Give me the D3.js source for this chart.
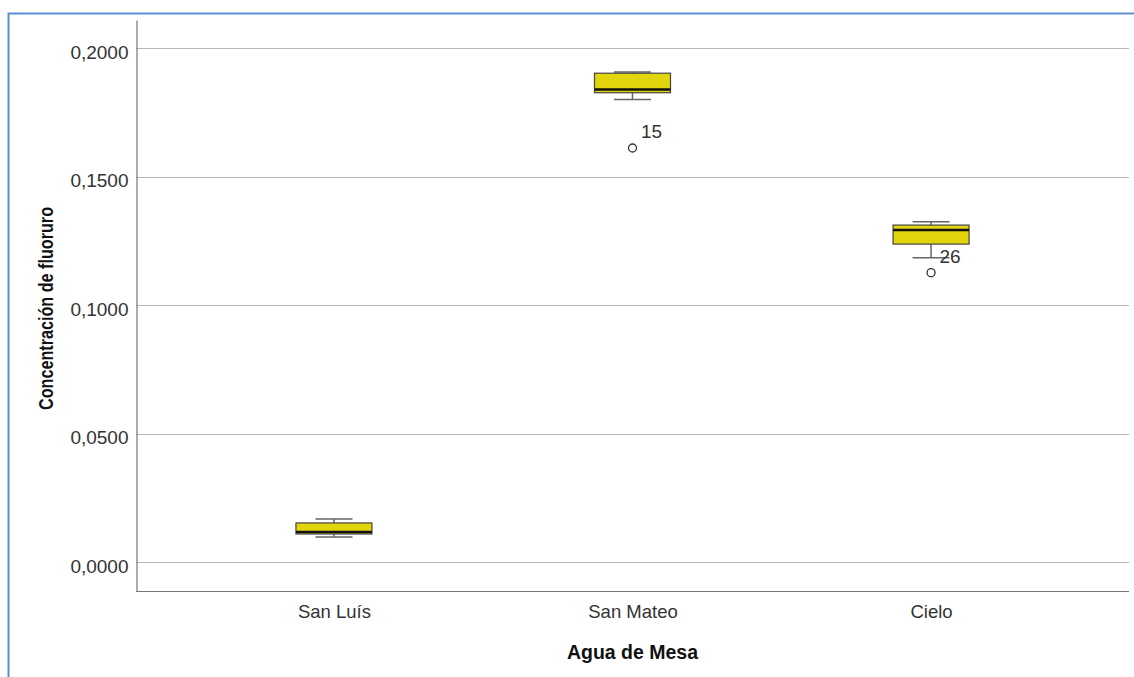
<!DOCTYPE html>
<html><head><meta charset="utf-8">
<script src="https://cdn.jsdelivr.net/npm/d3@7"></script>
<style>
html,body{margin:0;padding:0;background:#fff;}
svg{display:block;font-family:"Liberation Sans",Arial,sans-serif;}
</style></head>
<body>
<svg id="chart" width="1134" height="677"></svg>
<script>
const categories = ["San Luís", "San Mateo", "Cielo"];
const whiskerLow  = [0.0097, 0.1800, 0.1184];
const q1          = [0.0109, 0.1826, 0.1237];
const median      = [0.0117, 0.1839, 0.1292];
const q3          = [0.0152, 0.1902, 0.1311];
const whiskerHigh = [0.0167, 0.1907, 0.1324];
const outlierCat   = ["San Mateo", "Cielo"];
const outlierVal   = [0.1611, 0.1126];
const outlierLabel = ["15", "26"];
const yTicks = [0, 0.05, 0.1, 0.15, 0.2];
const yTitle = "Concentración de fluoruro";
const xTitle = "Agua de Mesa";

const svg = d3.select("#chart");
const L = 136, R = 1129, T = 20, B = 591;

// frame
svg.append("path").attr("d", `M8.5,677 L8.5,13.5 L1134,13.5`)
  .attr("fill","none").attr("stroke","#5b8fd0").attr("stroke-width",2);

const y = d3.scaleLinear().domain([-0.01128, 0.2109]).range([B, T]);
const x = d3.scalePoint().domain(categories).range([L, R]).padding(0.663);

// gridlines
svg.append("g").selectAll("line").data(yTicks).join("line")
  .attr("x1", L).attr("x2", R)
  .attr("y1", d => Math.round(y(d)) + 0.5).attr("y2", d => Math.round(y(d)) + 0.5)
  .attr("stroke", "#b8b8b8").attr("stroke-width", 1.2);

// y axis
const yAxis = d3.axisLeft(y).tickValues(yTicks).tickSize(0).tickPadding(8)
  .tickFormat(d => d3.format(".4f")(d).replace(".", ","));
const gy = svg.append("g").attr("transform", `translate(${L + 0.5},0)`).call(yAxis);
gy.select(".domain").attr("stroke", "#777").attr("stroke-width", 1.2);
gy.selectAll("text").attr("font-size", 19).attr("fill", "#333").attr("dy", "0.53em")
  .attr("font-family", "Liberation Sans, Arial, sans-serif");

// x axis
const xAxis = d3.axisBottom(x).tickSize(0).tickPadding(13.5);
const gx = svg.append("g").attr("transform", `translate(0,${B + 0.5})`).call(xAxis);
gx.select(".domain").attr("stroke", "#777").attr("stroke-width", 1.2).attr("d", `M${L},0H${R}`);
gx.selectAll("text").attr("font-size", 18.5).attr("fill", "#333")
  .attr("font-family", "Liberation Sans, Arial, sans-serif");

// titles
svg.append("text").attr("x", x("San Mateo")).attr("y", 659).attr("text-anchor", "middle")
  .attr("font-weight", "bold").attr("font-size", 19.5).attr("fill", "#111").text(xTitle);
svg.append("text").attr("transform", `translate(53,308.5) rotate(-90) scale(0.83,1)`)
  .attr("text-anchor", "middle").attr("font-weight", "bold").attr("font-size", 19.5)
  .attr("fill", "#111").text(yTitle);

// boxes
const boxW = 76, capW = 37;
const data = categories.map((c, i) => ({c, lo: whiskerLow[i], q1: q1[i], med: median[i], q3: q3[i], hi: whiskerHigh[i]}));
const g = svg.append("g");
data.forEach(d => {
  const cx = x(d.c);
  g.append("line").attr("x1", cx).attr("x2", cx).attr("y1", y(d.hi)).attr("y2", y(d.q3))
    .attr("stroke", "#666").attr("stroke-width", 1.5);
  g.append("line").attr("x1", cx).attr("x2", cx).attr("y1", y(d.q1)).attr("y2", y(d.lo))
    .attr("stroke", "#666").attr("stroke-width", 1.5);
  g.append("line").attr("x1", cx - capW / 2).attr("x2", cx + capW / 2).attr("y1", y(d.hi)).attr("y2", y(d.hi))
    .attr("stroke", "#666").attr("stroke-width", 1.5);
  g.append("line").attr("x1", cx - capW / 2).attr("x2", cx + capW / 2).attr("y1", y(d.lo)).attr("y2", y(d.lo))
    .attr("stroke", "#666").attr("stroke-width", 1.5);
  g.append("rect").attr("x", cx - boxW / 2).attr("width", boxW)
    .attr("y", y(d.q3)).attr("height", y(d.q1) - y(d.q3))
    .attr("fill", "#e3d50c").attr("stroke", "#444").attr("stroke-width", 1.2);
  g.append("line").attr("x1", cx - boxW / 2).attr("x2", cx + boxW / 2).attr("y1", y(d.med)).attr("y2", y(d.med))
    .attr("stroke", "#111").attr("stroke-width", 2.5);
});

// outliers
outlierCat.forEach((c, i) => {
  const cx = x(c), cy = y(outlierVal[i]);
  g.append("circle").attr("cx", cx).attr("cy", cy).attr("r", 4)
    .attr("fill", "#fff").attr("stroke", "#333").attr("stroke-width", 1.3);
  g.append("text").attr("x", cx + 8.5).attr("y", cy - 10).attr("font-size", 19)
    .attr("fill", "#333").text(outlierLabel[i]);
});
</script>
</body></html>
